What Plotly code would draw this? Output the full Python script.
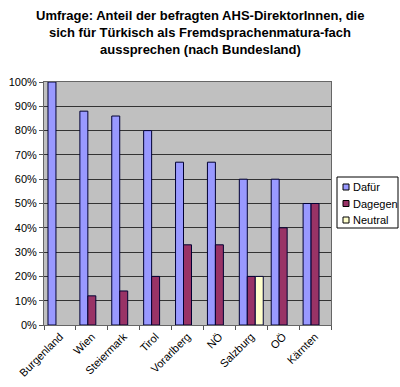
import plotly.graph_objects as go

categories = ["Burgenland", "Wien", "Steiermark", "Tirol", "Vorarlberg", "NÖ", "Salzburg", "OÖ", "Kärnten"]
dafuer = [1.00, 0.88, 0.86, 0.80, 0.67, 0.67, 0.60, 0.60, 0.50]
dagegen = [None, 0.12, 0.14, 0.20, 0.33, 0.33, 0.20, 0.40, 0.50]
neutral = [None, None, None, None, None, None, 0.20, None, None]
series_names = ["Dafür", "Dagegen", "Neutral"]
series_colors = ["#9999FF", "#993366", "#FFFFCC"]
title_lines = [
    "Umfrage: Anteil der befragten AHS-DirektorInnen, die",
    "sich für Türkisch als Fremdsprachenmatura-fach",
    "aussprechen (nach Bundesland)",
]

W, H = 400, 387
L, R, T, B = 44, 69, 82, 62
PW, PH = W - L - R, H - T - B

def px(x):
    return (x - L) / PW

def py(y):
    return (H - B - y) / PH

fig = go.Figure()
for name, vals, col in zip(series_names, [dafuer, dagegen, neutral], series_colors):
    fig.add_trace(go.Bar(x=categories, y=vals, name=name, showlegend=False,
                         marker=dict(color=col, line=dict(color="#000033", width=1))))

annotations = []
for i, line in enumerate(title_lines):
    annotations.append(dict(
        text=line, x=px(200), y=py(15 + i * 17.5), xref="paper", yref="paper",
        xanchor="center", yanchor="middle", showarrow=False,
        font=dict(family="Liberation Sans, Arial", size=13, color="#000000", weight="bold"),
    ))

shapes = [dict(type="rect", xref="paper", yref="paper", x0=px(337), x1=px(398), y0=py(228), y1=py(177),
               line=dict(color="#000000", width=1), fillcolor="white", layer="above")]
for i, (name, col) in enumerate(zip(series_names, series_colors)):
    cy = 187 + i * 16.5
    shapes.append(dict(type="rect", xref="paper", yref="paper", x0=px(343), x1=px(349),
                       y0=py(cy + 3), y1=py(cy - 3), line=dict(color="#000000", width=1),
                       fillcolor=col, layer="above"))
    annotations.append(dict(
        text=name, x=px(351), y=py(cy), xref="paper", yref="paper",
        xanchor="left", yanchor="middle", showarrow=False,
        font=dict(family="Liberation Sans, Arial", size=11, color="#000000"),
    ))

fig.update_layout(
    width=W, height=H,
    barmode="group", bargap=0.25, bargroupgap=0,
    paper_bgcolor="white", plot_bgcolor="#C0C0C0",
    margin=dict(l=L, r=R, t=T, b=B, autoexpand=False),
    font=dict(family="Liberation Sans, Arial", size=11, color="#000000"),
    showlegend=False,
    annotations=annotations,
    shapes=shapes,
)
fig.update_xaxes(
    tickangle=-45, ticks="outside", tickson="boundaries", ticklen=4, tickcolor="#555555",
    showline=True, linecolor="#666666", mirror=True, showgrid=False,
)
fig.update_yaxes(
    range=[0, 1], dtick=0.1, tickformat=".0%", ticks="outside", ticklen=4, tickcolor="#555555",
    showline=True, linecolor="#666666", mirror=True,
    showgrid=True, gridcolor="#333333", gridwidth=1, zeroline=False,
)
fig.write_html("out.html", config={"displayModeBar": False},
               post_script="document.body.style.margin='0';document.body.style.overflow='hidden';")
